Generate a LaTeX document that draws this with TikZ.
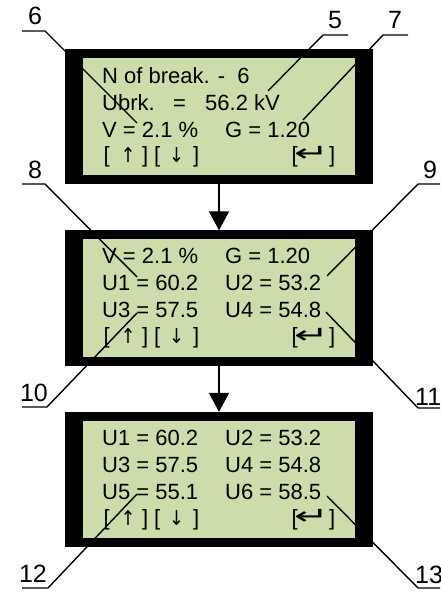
\RequirePackage{fix-cm}
\documentclass[tikz,border=0pt]{standalone}
\usepackage{fontspec}
\setmainfont{Liberation Sans}
\newfontfamily\arrfont{DejaVu Sans}
\usetikzlibrary{arrows.meta}
\definecolor{lcdgreen}{RGB}{204,220,170}
\tikzset{
  frame/.style={fill=black,draw=none,minimum width=308pt,minimum height=135pt,inner sep=0pt},
  screen/.style={fill=lcdgreen,draw=none,minimum width=272pt,minimum height=117pt,inner sep=0pt},
  txt/.style={anchor=base west,inner sep=0pt,font=\fontsize{22}{26}\selectfont},
  lbl/.style={anchor=base,inner sep=0pt,font=\fontsize{25}{28}\selectfont},
  lbll/.style={anchor=base west,inner sep=0pt,font=\fontsize{25}{28}\selectfont},
  leader/.style={line width=1.4pt,line join=miter},
  flow/.style={line width=2pt,-{Triangle[width=20pt,length=19pt]}}
}
\newcommand{\atl}[2]{\makebox[0pt][l]{\kern#1pt #2}}
\newcommand{\atc}[2]{\makebox[0pt][l]{\kern#1pt\makebox[0pt][c]{#2}}}
\newcommand{\uparr}{\raisebox{0pt}{\resizebox*{15pt}{15pt}{\arrfont ↑}}}
\newcommand{\dnarr}{\raisebox{0pt}{\resizebox*{15pt}{15pt}{\arrfont ↓}}}
\newcommand{\upk}{\atl{0}{[}\atc{24.5}{\uparr}\atl{38.5}{]}\atl{50.5}{[}\atc{73}{\dnarr}\atl{89.5}{]}\hspace{95pt}}
\newcommand{\entk}{\atl{0}{[}\atc{20}{\raisebox{0.5pt}{\scalebox{1.9}[1.1]{\arrfont ↵}}}\atl{37.5}{]}\hspace{43pt}}
\begin{document}
\begin{tikzpicture}[x=1pt,y=-1pt]
\useasboundingbox (0,0) rectangle (440,593);
% frames
\node[frame] (s1) at (219,116.5) {};
\node[screen] (g1) at (219,116.5) {};
\node[frame] (s2) at (219,298) {};
\node[screen] (g2) at (219,298) {};
\node[frame] (s3) at (219,479.5) {};
\node[screen] (g3) at (219,479.5) {};
% flow arrows
\draw[flow] (s1.south) -- (s2.north);
\draw[flow] (s2.south) -- (s3.north);
% screen 1
\node[txt] (a1) at (102,83.5) {N of break. -\ \ 6};
\node[txt] (a2) at (102,110.5) {Ubrk.};
\node[txt] (a3) at (173,110.5) {=};
\node[txt] (a4) at (205,110.5) {56.2 kV};
\node[txt] (a5) at (102,137.5) {V = 2.1 \%};
\node[txt] (a6) at (225,137.5) {G = 1.20};
\node[txt] (a7) at (103,162.5) {\upk};
\node[txt] (a8) at (291,162.5) {\entk};
% screen 2
\node[txt] (b1) at (102,263.5) {V = 2.1 \%};
\node[txt] (b2) at (225,263.5) {G = 1.20};
\node[txt] (b3) at (102,290.5) {U1 = 60.2};
\node[txt] (b4) at (225,290.5) {U2 = 53.2};
\node[txt] (b5) at (102,317.5) {U3 = 57.5};
\node[txt] (b6) at (225,317.5) {U4 = 54.8};
\node[txt] (b7) at (103,343.5) {\upk};
\node[txt] (b8) at (291,343.5) {\entk};
% screen 3
\node[txt] (c1) at (102,445.5) {U1 = 60.2};
\node[txt] (c2) at (225,445.5) {U2 = 53.2};
\node[txt] (c3) at (102,472.5) {U3 = 57.5};
\node[txt] (c4) at (225,472.5) {U4 = 54.8};
\node[txt] (c5) at (102,499.5) {U5 = 55.1};
\node[txt] (c6) at (225,499.5) {U6 = 58.5};
\node[txt] (c7) at (103,525) {\upk};
\node[txt] (c8) at (291,525) {\entk};
% leader coordinates
\coordinate (e6) at (22,31);  \coordinate (k6) at (45,31);  \coordinate (t6) at (137,123);
\coordinate (e5) at (348,35); \coordinate (k5) at (323,35); \coordinate (t5) at (268,91);
\coordinate (e7) at (408,35); \coordinate (k7) at (383,35); \coordinate (t7) at (303,120);
\coordinate (e8) at (22,184); \coordinate (k8) at (45,184); \coordinate (t8) at (137,277);
\coordinate (e9) at (440,184); \coordinate (k9) at (418,184); \coordinate (t9) at (327,276);
\coordinate (e10) at (22,407); \coordinate (k10) at (47,407); \coordinate (t10) at (137,313);
\coordinate (e11) at (440,408); \coordinate (k11) at (418,408); \coordinate (t11) at (326,312);
\coordinate (e12) at (22,588); \coordinate (k12) at (48,588); \coordinate (t12) at (137,494);
\coordinate (e13) at (440,588); \coordinate (k13) at (418,588); \coordinate (t13) at (327,496);
\foreach \n in {5,...,13} { \draw[leader] (e\n) -- (k\n) -- (t\n); }
% labels
\node[lbl] (n6) at (35,25) {6};
\node[lbl] (n5) at (335,29) {5};
\node[lbl] (n7) at (395,29) {7};
\node[lbl] (n8) at (35,179) {8};
\node[lbl] (n9) at (430,179) {9};
\node[lbl] (n10) at (34,401) {10};
\node[lbll] (n11) at (415,405) {11};
\node[lbl] (n12) at (33,582) {12};
\node[lbll] (n13) at (415,583) {13};
\end{tikzpicture}
\end{document}
